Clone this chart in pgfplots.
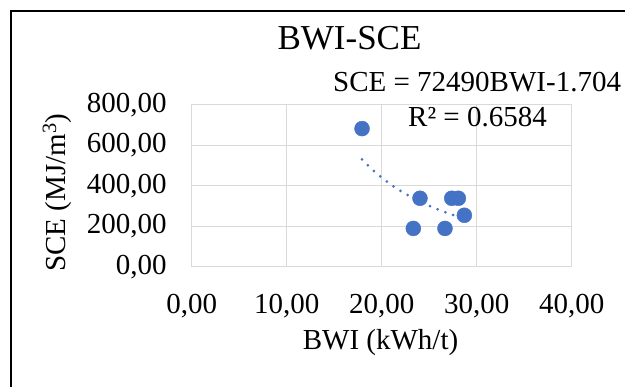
\documentclass[border=0pt]{standalone}
\usepackage{fontspec}
\setmainfont{Liberation Serif}
\usepackage{pgfplots}
\pgfplotsset{compat=1.18}
\definecolor{exblue}{HTML}{4472C4}
\definecolor{exgrid}{HTML}{D9D9D9}
\begin{document}
\begin{tikzpicture}[font=\fontsize{29bp}{34bp}\selectfont]
\begin{axis}[
  at={(191.7bp,120.3bp)}, anchor=south west,
  scale only axis, width=380bp, height=162bp,
  xmin=0, xmax=40, ymin=0, ymax=800,
  xtick={0,10,20,30,40}, ytick={0,200,400,600,800},
  grid=major, grid style={exgrid, line width=1bp},
  axis line style={exgrid, line width=1bp},
  major tick length=0pt,
  clip=false,
  scaled ticks=false,
  /pgf/number format/fixed,
  /pgf/number format/fixed zerofill,
  /pgf/number format/precision=2,
  /pgf/number format/use comma,
  /pgf/number format/1000 sep={},
  /pgf/number format/assume math mode=true,
  tick label style={font=\fontsize{29bp}{34bp}\selectfont},
  yticklabel style={anchor=east, inner sep=0pt, xshift=-25bp},
  xticklabel style={anchor=base, inner sep=0pt, yshift=-46.6bp},
  title={BWI-SCE},
  title style={at={(axis description cs:0.4153,1.3068)}, anchor=base, inner sep=0pt, font=\fontsize{35bp}{40bp}\selectfont},
  xlabel={BWI (kWh/t)},
  xlabel style={at={(axis description cs:0.497,-0.471)}, anchor=center, font=\fontsize{29bp}{34bp}\selectfont},
  ylabel={SCE (MJ/m\textsuperscript{3})},
  ylabel style={at={(axis description cs:-0.3545,0.458)}, anchor=center, font=\fontsize{29bp}{34bp}\selectfont},
]
\addplot[exblue, line width=3bp, line cap=round, dash pattern=on 0pt off 8.3bp, smooth]
  coordinates {(17.93,529.9) (19,480.0) (20,439.9) (21,404.8) (22,373.9) (23,346.7) (24,322.4) (25,300.7) (26,281.3) (27,263.8) (28,247.9) (28.70,237.7)};
\addplot[only marks, mark=*, mark size=7.5bp, mark options={draw=exblue, fill=exblue}]
  coordinates {(17.93,682) (24.03,338) (23.33,189) (26.66,189) (27.37,338) (28.07,338) (28.70,254)};
\end{axis}
\node[anchor=base west, inner sep=0pt] at (333bp,295.3bp) {SCE = 72490BWI-1.704};
\node[anchor=base west, inner sep=0pt] at (408bp,260.3bp) {R² = 0.6584};
\draw[black, line width=2.5bp] (11bp,-20bp) -- (11bp,376bp) -- (660bp,376bp);
\pgfresetboundingbox
\path[use as bounding box] (0,0) rectangle (625bp,387bp);
\end{tikzpicture}
\end{document}
